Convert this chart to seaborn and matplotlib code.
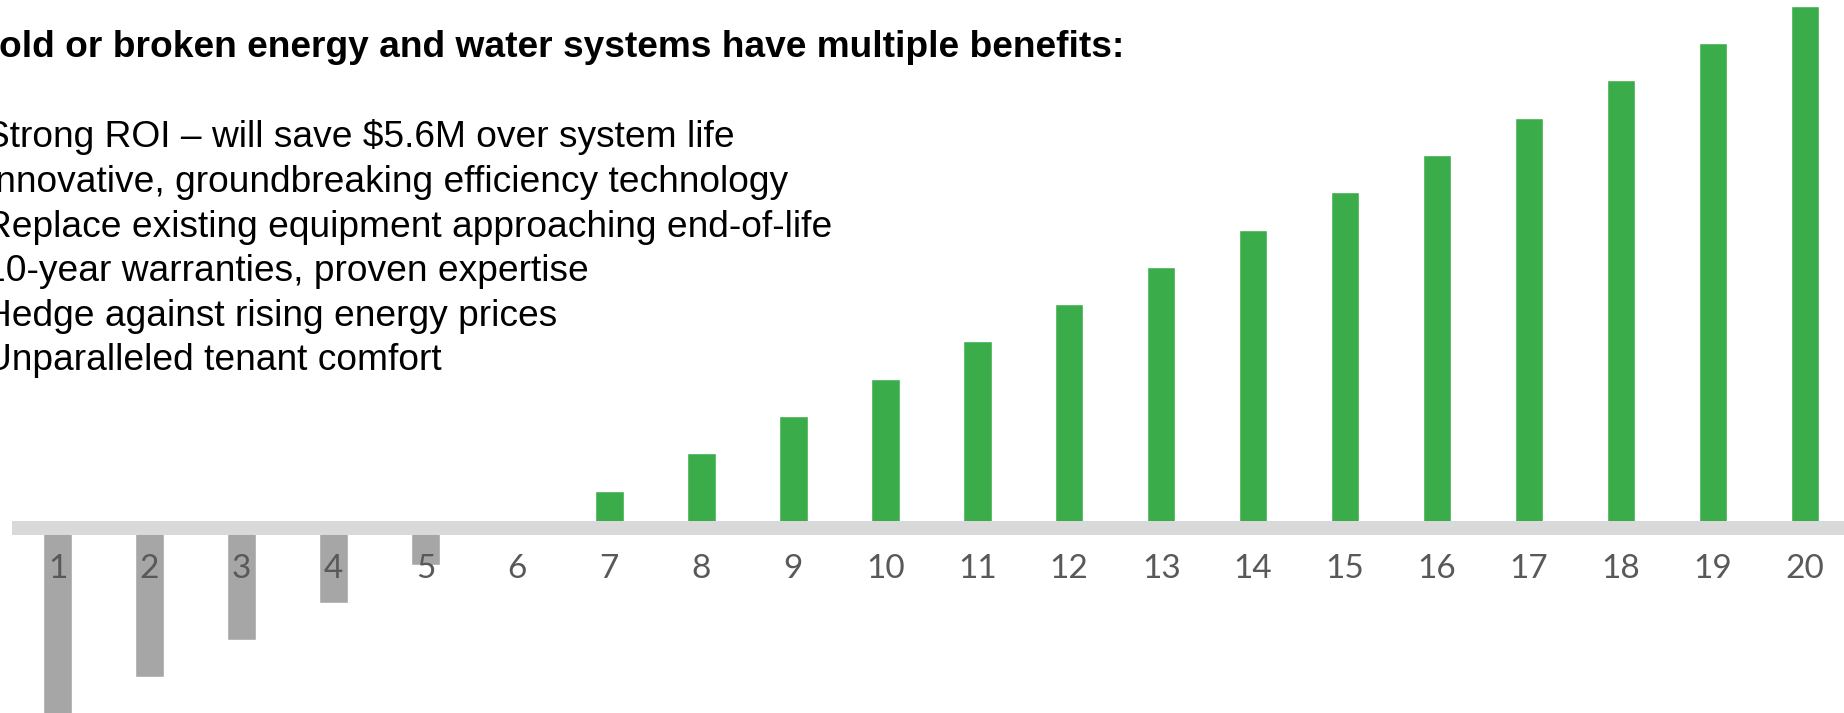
import matplotlib
matplotlib.use("Agg")
import matplotlib.pyplot as plt
import seaborn as sns
import pandas as pd

# ---- data ----
years = ["1", "2", "3", "4", "5", "6", "7", "8", "9", "10",
         "11", "12", "13", "14", "15", "16", "17", "18", "19", "20"]
values = [-2.0, -1.6, -1.2, -0.8, -0.4, 0.0, 0.4, 0.8, 1.2, 1.6,
          2.0, 2.4, 2.8, 3.2, 3.6, 4.0, 4.4, 4.8, 5.2, 5.6]
title_text = "old or broken energy and water systems have multiple benefits:"
bullets = [
    "Strong ROI \u2013 will save $5.6M over system life",
    "Innovative, groundbreaking efficiency technology",
    "Replace existing equipment approaching end-of-life",
    "10-year warranties, proven expertise",
    "Hedge against rising energy prices",
    "Unparalleled tenant comfort",
]

GREEN = "#3bac4a"
GREY = "#a6a6a6"
BAND = "#d9d9d9"
LABEL = "#595959"

sns.set_theme(style="white")
plt.rcParams["font.family"] = ["Liberation Sans", "DejaVu Sans"]

W, H = 1844, 713
fig = plt.figure(figsize=(W / 100, H / 100), dpi=100)
ax = fig.add_axes([0, 0, 1, 1])

df = pd.DataFrame({"year": years, "value": values})
df["sign"] = ["neg" if v < 0 else "pos" for v in values]

sns.barplot(data=df, x="year", y="value", hue="sign", order=years,
            palette={"neg": GREY, "pos": GREEN}, dodge=False, width=0.31,
            errorbar=None, legend=False, saturation=1, ax=ax)

# thick zero band
ax.fill_between([-0.5, 19.5], -0.075, 0.075, color=BAND, lw=0, zorder=3)

# category labels below the band
for i, lab in enumerate(years):
    ax.text(i, -0.54, lab, ha="center", va="baseline", fontsize=24,
            color=LABEL, family=["Lato", "DejaVu Sans"], zorder=4)

ax.set_xlim(-0.626, 19.424)
ax.set_ylim(-1.984, 5.662)
ax.axis("off")

# text block
fig.text(-1 / W, 1 - 57 / H, title_text, fontsize=26.7, fontweight="bold",
         color="black", ha="left", va="baseline")
baselines = [147, 192, 237, 281, 326, 370]
for b, t in zip(baselines, bullets):
    fig.text(-15 / W, 1 - b / H, t, fontsize=26.7, color="black",
             ha="left", va="baseline")

fig.savefig("out.png", dpi=100)
